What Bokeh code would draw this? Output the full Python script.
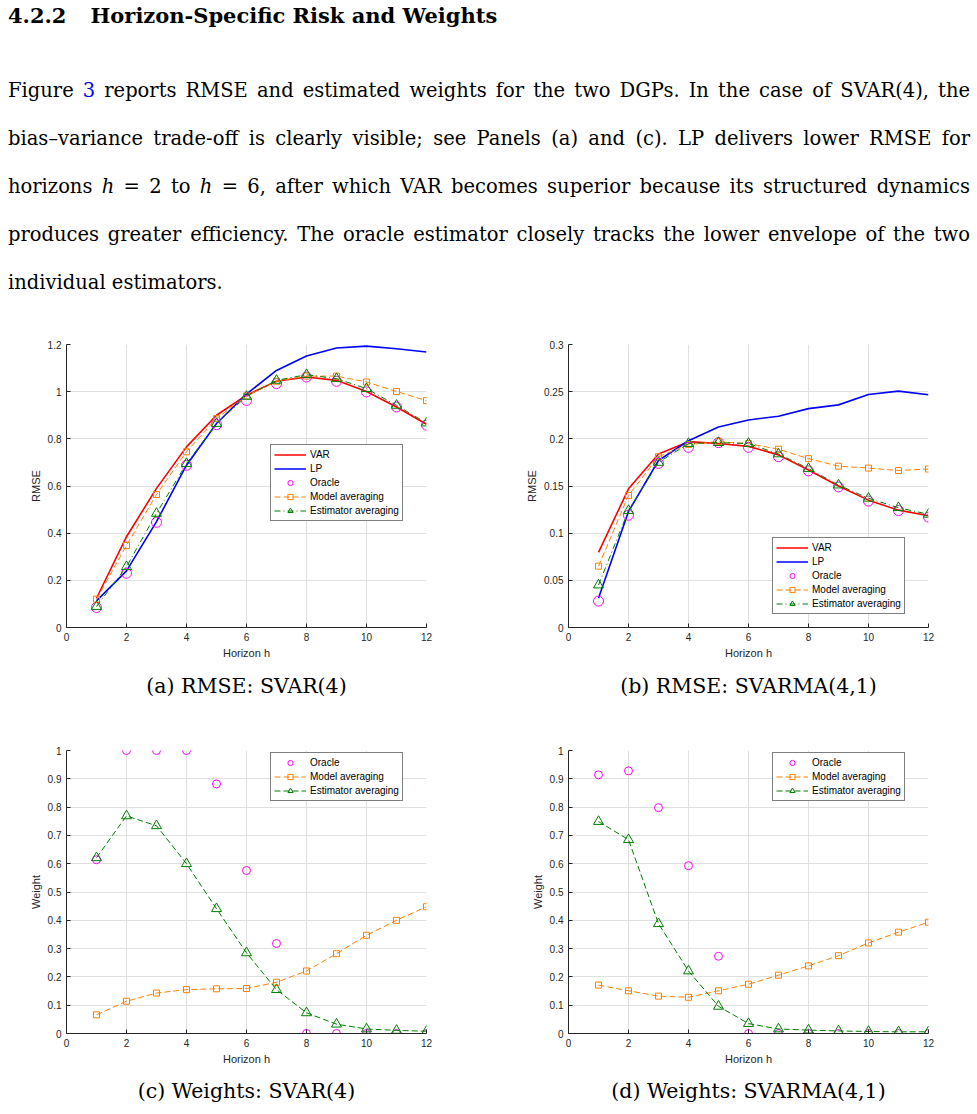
from bokeh.plotting import figure
from bokeh.layouts import column, row
from bokeh.models import Div, Range1d, FixedTicker, Legend, LegendItem
from bokeh.embed import file_html
from bokeh.resources import INLINE

# ---------------- data ----------------
horizon = [1, 2, 3, 4, 5, 6, 7, 8, 9, 10, 11, 12]

# (a) RMSE: SVAR(4)
var_a = [0.124, 0.385, 0.590, 0.766, 0.900, 0.985, 1.044, 1.062, 1.048, 1.001, 0.935, 0.862]
lp_a = [0.113, 0.240, 0.449, 0.688, 0.865, 0.990, 1.090, 1.151, 1.185, 1.193, 1.182, 1.168]
oracle_a = [0.085, 0.230, 0.446, 0.688, 0.860, 0.963, 1.034, 1.062, 1.044, 0.999, 0.935, 0.858]
model_a = [0.120, 0.348, 0.564, 0.745, 0.886, 0.982, 1.044, 1.066, 1.066, 1.041, 1.001, 0.962]
estim_a = [0.089, 0.258, 0.484, 0.695, 0.865, 0.980, 1.048, 1.072, 1.055, 1.013, 0.942, 0.867]

# (b) RMSE: SVARMA(4,1)
var_b = [0.0797, 0.147, 0.184, 0.197, 0.195, 0.192, 0.183, 0.167, 0.150, 0.135, 0.1244, 0.1185]
lp_b = [0.031, 0.123, 0.177, 0.198, 0.2126, 0.220, 0.224, 0.232, 0.236, 0.247, 0.2506, 0.2468]
oracle_b = [0.028, 0.119, 0.174, 0.191, 0.196, 0.191, 0.181, 0.166, 0.149, 0.134, 0.124, 0.117]
model_b = [0.065, 0.140, 0.181, 0.194, 0.197, 0.195, 0.189, 0.179, 0.171, 0.169, 0.1664, 0.168]
estim_b = [0.045, 0.124, 0.175, 0.195, 0.196, 0.195, 0.184, 0.1685, 0.151, 0.137, 0.127, 0.120]

# (c) Weights: SVAR(4)
oracle_c = [0.614, 1.0, 1.0, 1.0, 0.882, 0.576, 0.318, 0.0, 0.0, 0.0, 0.0, 0.0]
model_c = [0.066, 0.114, 0.143, 0.155, 0.158, 0.159, 0.181, 0.221, 0.282, 0.347, 0.400, 0.448]
estim_c = [0.621, 0.769, 0.734, 0.600, 0.441, 0.285, 0.155, 0.073, 0.033, 0.016, 0.011, 0.008]

# (d) Weights: SVARMA(4,1)
oracle_d = [0.914, 0.928, 0.798, 0.593, 0.273, 0.0, 0.0, 0.0, 0.0, 0.0, 0.0, 0.0]
model_d = [0.171, 0.151, 0.132, 0.128, 0.151, 0.174, 0.206, 0.239, 0.275, 0.320, 0.358, 0.393]
estim_d = [0.749, 0.685, 0.388, 0.221, 0.096, 0.035, 0.016, 0.012, 0.009, 0.007, 0.006, 0.006]

x_ticks = [0, 2, 4, 6, 8, 10, 12]
x_tick_labels = ["0", "2", "4", "6", "8", "10", "12"]
y_ticks_a = [0, 0.2, 0.4, 0.6, 0.8, 1, 1.2]
y_tick_labels_a = ["0", "0.2", "0.4", "0.6", "0.8", "1", "1.2"]
y_ticks_b = [0, 0.05, 0.1, 0.15, 0.2, 0.25, 0.3]
y_tick_labels_b = ["0", "0.05", "0.1", "0.15", "0.2", "0.25", "0.3"]
y_ticks_w = [0, 0.1, 0.2, 0.3, 0.4, 0.5, 0.6, 0.7, 0.8, 0.9, 1]
y_tick_labels_w = ["0", "0.1", "0.2", "0.3", "0.4", "0.5", "0.6", "0.7", "0.8", "0.9", "1"]

# ---------------- styles ----------------
RED = "#FF0000"
BLUE = "#0000FF"
MAGENTA = "#FF00FF"
ORANGE = "#FF8000"
GREEN = "#007F00"
AX = "#262626"
SANS = "Liberation Sans"
SERIF = "DejaVu Serif"


def make_panel(width, height, ml, mr, mt, mb, yr, yt, ytl, ylabel, caption, standoff):
    p = figure(width=width, height=height, x_range=Range1d(0, 12), y_range=Range1d(*yr),
               output_backend="svg", toolbar_location=None,
               min_border_left=ml, min_border_right=mr, min_border_top=mt, min_border_bottom=mb,
               title=caption, title_location="below")
    p.outline_line_color = None
    p.background_fill_color = "white"
    p.title.align = "center"
    p.title.text_font = SERIF
    p.title.text_font_size = "20.5px"
    p.title.text_font_style = "normal"
    p.title.text_color = "#000000"
    p.title.standoff = standoff
    xt = FixedTicker(ticks=x_ticks)
    ytk = FixedTicker(ticks=yt)
    p.xaxis.ticker = xt
    p.yaxis.ticker = ytk
    p.xgrid.ticker = xt
    p.ygrid.ticker = ytk
    p.xaxis.major_label_overrides = {t: s for t, s in zip(x_ticks, x_tick_labels)}
    p.yaxis.major_label_overrides = {t: s for t, s in zip(yt, ytl)}
    p.xaxis.axis_label = "Horizon h"
    p.yaxis.axis_label = ylabel
    for ax in (p.xaxis[0], p.yaxis[0]):
        ax.axis_line_color = AX
        ax.major_tick_line_color = AX
        ax.major_tick_in = 4
        ax.major_tick_out = 0
        ax.minor_tick_line_color = None
        ax.major_label_text_font = SANS
        ax.major_label_text_font_size = "10px"
        ax.major_label_text_color = AX
        ax.major_label_standoff = 5
        ax.axis_label_text_font = SANS
        ax.axis_label_text_font_size = "11px"
        ax.axis_label_text_font_style = "normal"
        ax.axis_label_text_color = AX
        ax.axis_label_standoff = 3
    p.grid.grid_line_color = "#DFDFDF"
    p.grid.grid_line_width = 1
    return p


def style_legend(leg):
    leg.border_line_color = "#000000"
    leg.border_line_width = 1
    leg.background_fill_color = "white"
    leg.background_fill_alpha = 1
    leg.label_text_font = SANS
    leg.label_text_font_size = "10px"
    leg.label_text_color = "#000000"
    leg.glyph_width = 32
    leg.glyph_height = 13
    leg.label_height = 13
    leg.spacing = 1
    leg.padding = 3
    leg.margin = 0
    leg.label_standoff = 4


def rmse_panel(p, var, lp, orc, mod, est, loc):
    r1 = p.line(horizon, var, line_color=RED, line_width=1.6)
    r2 = p.line(horizon, lp, line_color=BLUE, line_width=1.6)
    r3 = p.scatter(horizon, orc, marker="circle", size=10, fill_color=None, line_color=MAGENTA, line_width=1)
    r4l = p.line(horizon, mod, line_color=ORANGE, line_width=1, line_dash="6 3")
    r4m = p.scatter(horizon, mod, marker="square", size=6, fill_color=None, line_color=ORANGE, line_width=1)
    r5l = p.line(horizon, est, line_color=GREEN, line_width=1, line_dash="6 3 1 3")
    r5m = p.scatter(horizon, est, marker="triangle", size=10, fill_color=None, line_color=GREEN, line_width=1)
    leg = Legend(items=[LegendItem(label="VAR", renderers=[r1]),
                        LegendItem(label="LP", renderers=[r2]),
                        LegendItem(label="Oracle", renderers=[r3]),
                        LegendItem(label="Model averaging", renderers=[r4l, r4m]),
                        LegendItem(label="Estimator averaging", renderers=[r5l, r5m])],
                 location=loc)
    style_legend(leg)
    p.add_layout(leg)


def weight_panel(p, orc, mod, est, loc):
    r3 = p.scatter(horizon, orc, marker="circle", size=8, fill_color=None, line_color=MAGENTA, line_width=1)
    r4l = p.line(horizon, mod, line_color=ORANGE, line_width=1, line_dash="6 3")
    r4m = p.scatter(horizon, mod, marker="square", size=6, fill_color=None, line_color=ORANGE, line_width=1)
    r5l = p.line(horizon, est, line_color=GREEN, line_width=1, line_dash="6 3")
    r5m = p.scatter(horizon, est, marker="triangle", size=10, fill_color=None, line_color=GREEN, line_width=1)
    leg = Legend(items=[LegendItem(label="Oracle", renderers=[r3]),
                        LegendItem(label="Model averaging", renderers=[r4l, r4m]),
                        LegendItem(label="Estimator averaging", renderers=[r5l, r5m])],
                 location=loc)
    style_legend(leg)
    p.add_layout(leg)


pa = make_panel(488, 400, 66, 62, 24, 93, (0, 1.2), y_ticks_a, y_tick_labels_a, "RMSE", "(a) RMSE: SVAR(4)", 20)
rmse_panel(pa, var_a, lp_a, oracle_a, model_a, estim_a, (204, 106))
pb = make_panel(489, 400, 80, 49, 24, 93, (0, 0.3), y_ticks_b, y_tick_labels_b, "RMSE", "(b) RMSE: SVARMA(4,1)", 20)
rmse_panel(pb, var_b, lp_b, oracle_b, model_b, estim_b, (204, 13))
pc = make_panel(488, 394, 66, 62, 30, 81, (0, 1), y_ticks_w, y_tick_labels_w, "Weight", "(c) Weights: SVAR(4)", 19)
weight_panel(pc, oracle_c, model_c, estim_c, (204, 232))
pd = make_panel(489, 394, 80, 49, 30, 81, (0, 1), y_ticks_w, y_tick_labels_w, "Weight", "(d) Weights: SVARMA(4,1)", 19)
weight_panel(pd, oracle_d, model_d, estim_d, (204, 232))

J = "text-align:justify;text-align-last:justify;white-space:nowrap;"
text_html = f"""
<div style="font-family:'{SERIF}';color:#000;width:962px;margin-left:8px;">
  <div style="font-weight:bold;font-size:21px;line-height:32px;">4.2.2<span style="margin-left:24px;">Horizon-Specific Risk and Weights</span></div>
  <div style="margin-top:35px;font-size:19.5px;line-height:48px;">
    <div style="{J}">Figure <span style="color:#0000FF;">3</span> reports RMSE and estimated weights for the two DGPs. In the case of SVAR(4), the</div>
    <div style="{J}">bias&ndash;variance trade-off is clearly visible; see Panels (a) and (c). LP delivers lower RMSE for</div>
    <div style="{J}">horizons <i>h</i> = 2 to <i>h</i> = 6, after which VAR becomes superior because its structured dynamics</div>
    <div style="{J}">produces greater efficiency. The oracle estimator closely tracks the lower envelope of the two</div>
    <div>individual estimators.</div>
  </div>
</div>
"""
div = Div(text=text_html, width=977, height=320, margin=0)

layout = column(div, row(pa, pb), row(pc, pd))

with open("out.html", "w") as f:
    f.write(file_html(layout, INLINE))
